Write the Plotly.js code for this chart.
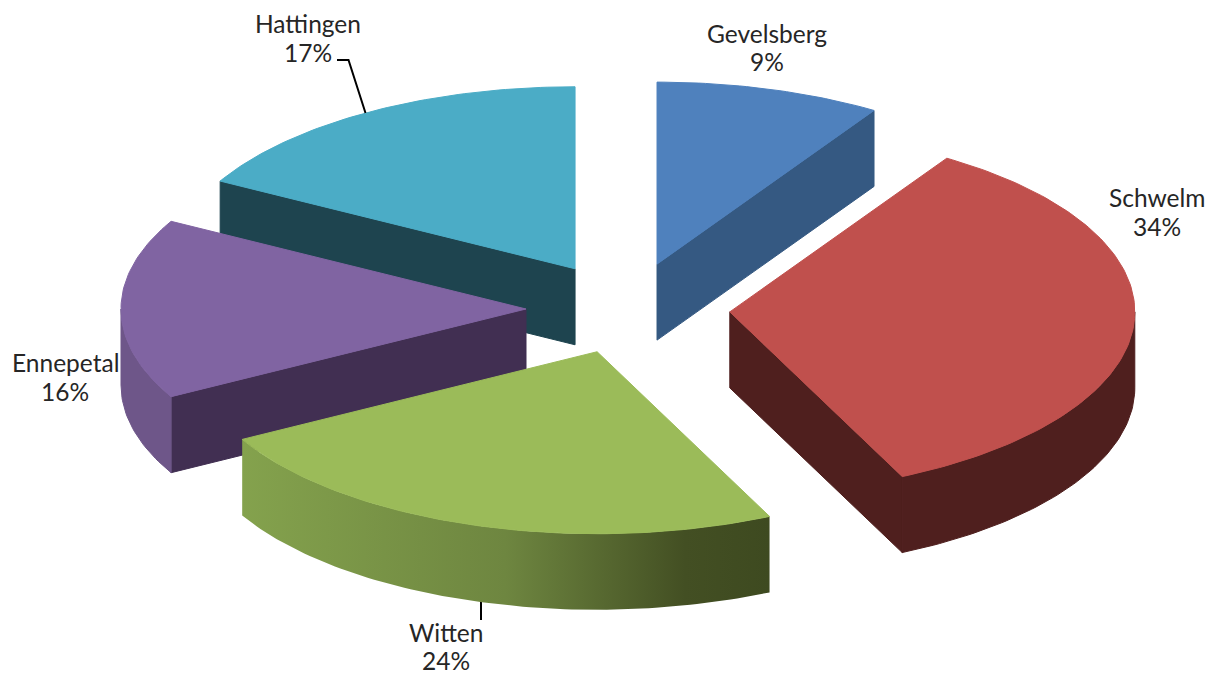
<!DOCTYPE html>
<html lang="de">
<head>
<meta charset="utf-8">
<title>Anteile nach Stadt</title>
<script src="https://cdn.plot.ly/plotly-3.0.1.min.js"></script>
<style>html,body{margin:0;padding:0;background:#fff}#chart{width:1214px;height:677px}</style>
</head>
<body>
<div id="chart"></div>
<script>
// Shares per town, clockwise from twelve o'clock
const towns = ['Gevelsberg', 'Schwelm', 'Witten', 'Ennepetal', 'Hattingen'];
const shares = [9, 34, 24, 16, 17];
const explode = [104, 102, 100, 102, 104];

const topColors = ['#4f81bd', '#c0504d', '#9bbb59', '#8064a2', '#4bacc6'];
const cutColors = ['#355982', '#4f1f1e', '#4a5a28', '#412f52', '#1e444f'];
const wallColors = [null, '#4f1f1e', null, '#6e5689', null];
const wittenWallScale = [[0, '#84a24d'], [0.5, '#6e8640'], [0.84, '#434f23'], [1, '#3e4a20']];

// Projection of the tilted disc on the page
const cx = 628, cy = 309, rx = 405, ry = 182, depth = 76;
const deg = Math.PI / 180;

const ends = [];
shares.reduce((acc, s, i) => { ends[i] = acc + s * 3.6; return ends[i]; }, 0);
const starts = ends.map((e, i) => e - shares[i] * 3.6);

function apex(i) {
  const m = (starts[i] + ends[i]) / 2 * deg;
  return [cx + explode[i] * Math.sin(m), cy - explode[i] * (ry / rx) * Math.cos(m)];
}
function rim(i, angle, drop) {
  const a = apex(i);
  return [a[0] + rx * Math.sin(angle * deg), a[1] - ry * Math.cos(angle * deg) + (drop || 0)];
}
function arc(i, from, to, drop) {
  const n = Math.max(2, Math.ceil(Math.abs(to - from)));
  const pts = [];
  for (let k = 0; k <= n; k++) pts.push(rim(i, from + (to - from) * k / n, drop));
  return pts;
}
function poly(points, color, gradient) {
  const closed = points.concat([points[0]]);
  const t = {
    type: 'scatter', mode: 'lines', x: closed.map(p => p[0]), y: closed.map(p => p[1]),
    fill: 'toself', hoverinfo: 'skip', showlegend: false,
    line: gradient ? {width: 0} : {width: 1, color: color}
  };
  if (gradient) t.fillgradient = {type: 'horizontal', colorscale: gradient};
  else t.fillcolor = color;
  return t;
}
function topFace(i) {
  return poly([apex(i)].concat(arc(i, starts[i], ends[i])), topColors[i]);
}
// Flat face along a radial cut at the given angle
function cutFace(i, angle) {
  const a = apex(i), r = rim(i, angle);
  return poly([a, r, [r[0], r[1] + depth], [a[0], a[1] + depth]], cutColors[i]);
}
// Curved outer wall between two angles
function outerWall(i, from, to, color, gradient) {
  const upper = arc(i, from, to);
  const lower = arc(i, to, from, depth);
  return poly(upper.concat(lower), color, gradient);
}

const [G, S, W, E, H] = [0, 1, 2, 3, 4];
const traces = [
  cutFace(H, starts[H]), topFace(H),
  cutFace(G, ends[G]), topFace(G),
  cutFace(E, starts[E]), outerWall(E, starts[E], 270, wallColors[E]), topFace(E),
  cutFace(S, ends[S]), outerWall(S, 90, ends[S], wallColors[S]), topFace(S),
  outerWall(W, starts[W], ends[W], null, wittenWallScale), topFace(W)
];

// Leader lines from the discs to their labels
const leader = (xs, ys) => ({
  type: 'scatter', mode: 'lines', x: xs, y: ys,
  line: {color: '#000', width: 2}, hoverinfo: 'skip', showlegend: false
});
traces.unshift(leader([481, 481], [595, 620]));
traces.push(leader([365.5, 348.5, 337], [113, 60, 60]));

// Town name on one line, its share on the next
const nameY = [33, 197, 632, 362, 23];
const shareY = [61, 226, 660.5, 391, 52];
const labelX = [767, 1157, 446, 65, 308];
const labelFont = {family: 'Lato, "Open Sans", sans-serif', size: 24.5, color: '#262626'};
const note = (x, y, text) => ({
  x: x, y: y, xref: 'x', yref: 'y', text: text, showarrow: false,
  xanchor: 'center', yanchor: 'middle', font: labelFont
});
const annotations = [];
towns.forEach((t, i) => {
  annotations.push(note(labelX[i], nameY[i], t));
  annotations.push(note(labelX[i], shareY[i], shares[i] + '%'));
});

Plotly.newPlot('chart', traces, {
  width: 1214, height: 677,
  margin: {l: 0, r: 0, t: 0, b: 0},
  paper_bgcolor: '#fff', plot_bgcolor: '#fff',
  xaxis: {range: [0, 1214], visible: false, fixedrange: true},
  yaxis: {range: [677, 0], visible: false, fixedrange: true},
  annotations: annotations,
  showlegend: false
}, {displayModeBar: false, staticPlot: true});
</script>
</body>
</html>
